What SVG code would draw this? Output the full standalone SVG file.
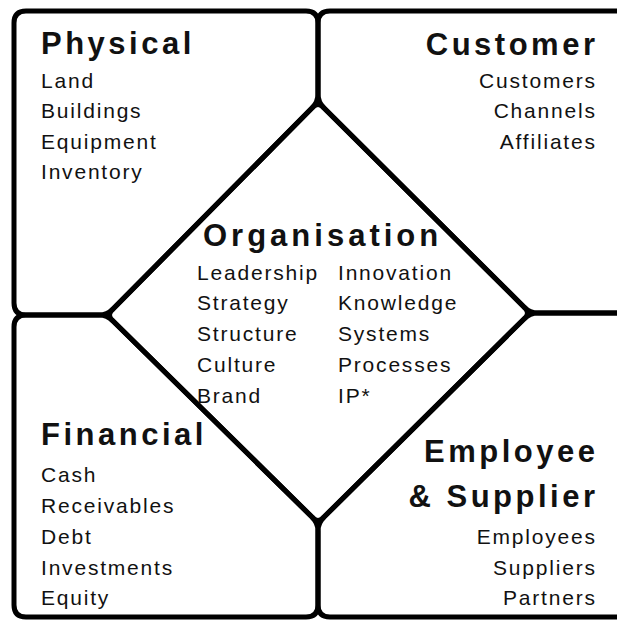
<svg xmlns="http://www.w3.org/2000/svg" width="617" height="623" viewBox="0 0 617 623">
<style>
.box{fill:none;stroke:#000;stroke-width:5;stroke-linejoin:round}
.t{font-family:"Liberation Sans",Arial,sans-serif;font-weight:bold;font-size:31px;letter-spacing:3.5px;fill:#111}
.b{font-family:"Liberation Sans",Arial,sans-serif;font-size:21px;letter-spacing:1.8px;fill:#111}
.r{text-anchor:end}
</style>
<rect width="617" height="623" fill="#fff"/>
<g id="physical">
<path class="box" d="M26,11 H306 Q318,11 318,23 V94 Q318,102 312,108 L113,309 Q107,315 99,315 H26 Q14,315 14,303 V23 Q14,11 26,11 Z"/>
<text class="t" x="41" y="54">Physical</text>
<text class="b" x="41" y="88">Land</text>
<text class="b" x="41" y="118">Buildings</text>
<text class="b" x="41" y="149">Equipment</text>
<text class="b" x="41" y="179">Inventory</text>
</g>
<g id="customer">
<path class="box" d="M330,11 Q318,11 318,23 V94 Q318,102 324,108 L524,307 Q530,313 538,313 H640 V11 Z"/>
<text class="t r" x="598.5" y="55">Customer</text>
<text class="b r" x="596.8" y="88">Customers</text>
<text class="b r" x="596.8" y="118">Channels</text>
<text class="b r" x="596.8" y="149">Affiliates</text>
</g>
<g id="financial">
<path class="box" d="M26,315 H99 Q107,315 113,321 L312,517 Q318,523 318,531 V605 Q318,617 306,617 H26 Q14,617 14,605 V327 Q14,315 26,315 Z"/>
<text class="t" x="41" y="445">Financial</text>
<text class="b" x="41" y="482">Cash</text>
<text class="b" x="41" y="513">Receivables</text>
<text class="b" x="41" y="544">Debt</text>
<text class="b" x="41" y="575">Investments</text>
<text class="b" x="41" y="605">Equity</text>
</g>
<g id="employee-supplier">
<path class="box" d="M538,313 Q530,313 524,319 L324,517 Q318,523 318,531 V605 Q318,617 330,617 H640 V313 Z"/>
<text class="t r" x="598.5" y="462">Employee</text>
<text class="t r" x="598.5" y="507">&amp; Supplier</text>
<text class="b r" x="596.8" y="544">Employees</text>
<text class="b r" x="596.8" y="575">Suppliers</text>
<text class="b r" x="596.8" y="605">Partners</text>
</g>
<g id="organisation">
<path class="box" d="M312,108 Q318,101 324,108 L524,307 Q531,313 524,319 L324,517 Q318,524 312,517 L113,321 Q106,315 113,309 Z"/>
<text class="t" x="203" y="246" style="letter-spacing:4px">Organisation</text>
<text class="b" x="197" y="280">Leadership</text>
<text class="b" x="197" y="310">Strategy</text>
<text class="b" x="197" y="341">Structure</text>
<text class="b" x="197" y="372">Culture</text>
<text class="b" x="197" y="403">Brand</text>
<text class="b" x="338" y="280">Innovation</text>
<text class="b" x="338" y="310">Knowledge</text>
<text class="b" x="338" y="341">Systems</text>
<text class="b" x="338" y="372">Processes</text>
<text class="b" x="338" y="403">IP*</text>
</g>
</svg>
